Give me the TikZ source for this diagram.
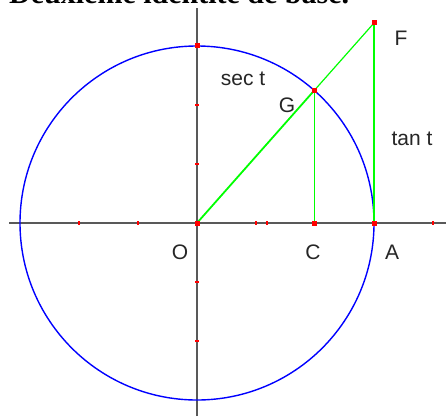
\documentclass[tikz,border=0pt]{standalone}
\usepackage{fontspec}
\setmainfont{Liberation Sans}
\newfontfamily\titlefont{Liberation Serif}
\begin{document}
\begin{tikzpicture}[x=1pt,y=1pt,
  axis/.style={draw=black!65, line width=1.4pt},
  circ/.style={draw=blue, line width=1.4pt},
  grn/.style={draw=green, line width=1.2pt},
  pt/.style={fill=red, minimum size=5pt, inner sep=0pt, draw=none, rectangle},
  tick/.style={draw=red, line width=1.2pt},
  lbl/.style={font=\fontsize{21}{21}\selectfont, text=black!85, inner sep=0pt}]
\useasboundingbox (0,0) rectangle (446,416);
\fill[white] (0,0) rectangle (446,416);
% title
\node[anchor=base west, inner sep=0pt, font=\titlefont\bfseries\fontsize{30}{30}\selectfont] (title) at (9,412) {Deuxième identité de base.};
% points
\coordinate (O) at (197,193);
\coordinate (A) at (374,193);
\coordinate (C) at (314.3,193);
\coordinate (G) at (314.3,325.6);
\coordinate (F) at (374,393);
\coordinate (T) at (197,370);
\coordinate (xl) at (9,193);
\coordinate (xr) at (446,193);
\coordinate (yb) at (197,0);
\coordinate (yt) at (197,408);
% axes
\draw[axis] (xl) -- (xr);
\draw[axis] (yb) -- (yt);
% ticks
\foreach \x in {79,138,256,267,433} \draw[tick] (\x,191.3) -- (\x,194.7);
\foreach \y in {75,134,252,311} \draw[tick] (195.3,\y) -- (198.7,\y);
% circle
\draw[circ] (O) circle (177);
% green
\draw[grn, line width=1.8pt] (O) -- (G);
\draw[grn] (G) -- (F);
\draw[grn, line width=1.5pt] (G) -- (C);
\draw[grn, line width=1.5pt] (F) -- (A);
% points
\foreach \p in {O,A,C,G,F,T} \node[pt] (d\p) at (\p) {};
% labels
\node[lbl] (lF) at (401,378) {F};
\node[lbl] (lsec) at (243,337) {sec t};
\node[lbl] (lG) at (287,311) {G};
\node[lbl] (ltan) at (412,277) {tan t};
\node[lbl] (lO) at (180,164) {O};
\node[lbl] (lC) at (313,164) {C};
\node[lbl] (lA) at (392,164) {A};
\end{tikzpicture}
\end{document}
